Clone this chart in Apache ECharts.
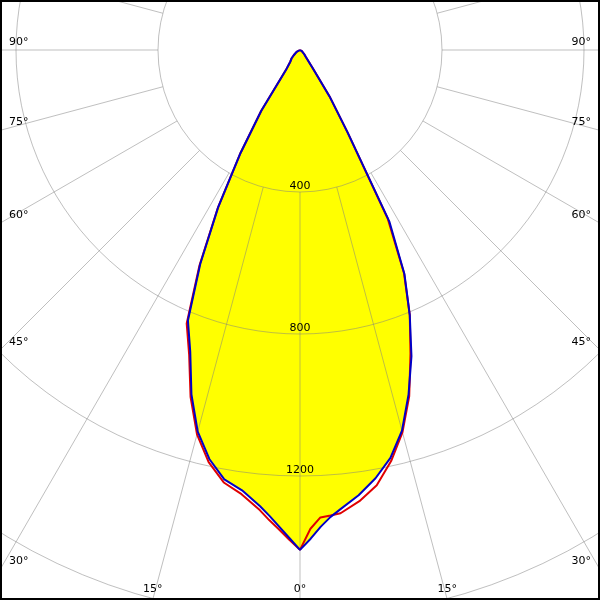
<!DOCTYPE html>
<html>
<head>
<meta charset="utf-8">
<script src="https://cdn.jsdelivr.net/npm/echarts@6/dist/echarts.min.js"></script>
<style>
  html, body { margin: 0; padding: 0; background: #fff; }
  #chart { width: 600px; height: 600px; }
</style>
</head>
<body>
<div id="chart"></div>
<script>
// gamma angles (deg from nadir) and luminous intensity (cd)
var angles = [0, 1.25, 2.5, 3.75, 5, 7.5, 10, 12.5, 15, 17.5, 20, 22.5, 25, 27.5, 30, 32.5, 35, 40, 45, 50, 60, 70, 80, 90];
var blueRight = [1408, 1377, 1344, 1318, 1299, 1265, 1225, 1177, 1110, 1017, 918, 808, 696, 546, 268, 155, 62, 25, 17, 11, 6, 3, 0, 0];
var blueLeft  = [1408, 1375, 1344, 1315, 1290, 1251, 1228, 1180, 1113, 1017, 904, 825, 665, 499, 335, 203, 70, 42, 34, 23, 11, 3, 0, 0];
var redRight  = [1408, 1349, 1318, 1314, 1310, 1282, 1245, 1186, 1115, 1023, 910, 808, 693, 535, 268, 155, 62, 25, 17, 11, 6, 3, 0, 0];
var redLeft   = [1408, 1380, 1352, 1327, 1301, 1262, 1237, 1189, 1121, 1025, 913, 834, 670, 501, 335, 203, 70, 42, 34, 23, 11, 3, 0, 0];

var ringValues = [400, 800, 1200, 1600];
var labelAngles = [0, 15, 30, 45, 60, 75, 90];

var cx = 300, cy = 50;
var rMax = 1800, rOuter = 639;
var rInner = ringValues[0] / rMax * rOuter;

// left half uses 360 - angle, run from left 90 down to 0 then up the right side
function curve(left, right) {
  var pts = [];
  for (var i = angles.length - 1; i > 0; i--) pts.push([left[i], 360 - angles[i]]);
  for (var j = 0; j < angles.length; j++) pts.push([right[j], angles[j]]);
  return pts;
}

// angle labels sit where each radial line leaves the frame
var texts = [];
labelAngles.forEach(function (a) {
  var sides = a === 0 ? [1] : [-1, 1];
  sides.forEach(function (sd) {
    var rad = a * Math.PI / 180;
    var dx = sd * Math.sin(rad), dy = Math.cos(rad);
    var tSide = dx !== 0 ? 300 / Math.abs(dx) : Infinity;
    var tBot = dy > 0 ? (600 - cy) / dy : Infinity;
    var x, y, align;
    if (tSide < tBot) {
      x = sd < 0 ? 9 : 591;
      y = cy + tSide * dy - 8;
      align = sd < 0 ? 'left' : 'right';
    } else {
      x = cx + tBot * dx;
      y = 589;
      align = 'center';
    }
    texts.push({
      type: 'text', x: x, y: y, z: 20,
      style: { text: a + '°', font: '11px DejaVu Sans', fill: '#000', align: align, verticalAlign: 'middle' }
    });
  });
});
texts.push({
  type: 'rect', z: 30, silent: true,
  shape: { x: 1, y: 1, width: 598, height: 598 },
  style: { fill: 'none', stroke: '#000', lineWidth: 2 }
});

var gridColor = 'rgba(128,128,128,0.5)';

var myChart = echarts.init(document.getElementById('chart'));
myChart.setOption({
  animation: false,
  backgroundColor: '#fff',
  polar: [
    { center: [cx, cy], radius: [rInner, rOuter] },
    { center: [cx, cy], radius: [0, rOuter] }
  ],
  angleAxis: [
    {
      polarIndex: 0, type: 'value', min: 0, max: 360, interval: 15,
      startAngle: 270, clockwise: false, z: 3,
      axisLine: { show: false }, axisTick: { show: false }, axisLabel: { show: false },
      splitLine: { show: true, lineStyle: { color: gridColor, width: 1 } }
    },
    {
      polarIndex: 1, type: 'value', min: 0, max: 360,
      startAngle: 270, clockwise: false,
      axisLine: { show: false }, axisTick: { show: false }, axisLabel: { show: false },
      splitLine: { show: false }
    }
  ],
  radiusAxis: [
    {
      polarIndex: 0, type: 'value', min: ringValues[0], max: rMax, interval: 400, z: 3,
      axisLine: { show: false }, axisTick: { show: false },
      axisLabel: {
        show: true, margin: 0, align: 'center', verticalAlign: 'bottom',
        color: '#000', fontSize: 11, fontFamily: 'DejaVu Sans',
        showMinLabel: true, showMaxLabel: false,
        formatter: function (v) { return String(v); }
      },
      splitLine: { show: true, lineStyle: { color: gridColor, width: 1 } }
    },
    {
      polarIndex: 1, type: 'value', min: 0, max: rMax,
      axisLine: { show: false }, axisTick: { show: false }, axisLabel: { show: false },
      splitLine: { show: false }
    }
  ],
  graphic: texts,
  series: [
    {
      name: 'fill', type: 'line', coordinateSystem: 'polar', polarIndex: 1,
      data: curve(blueLeft, blueRight), symbol: 'none', silent: true, z: 2, clip: false,
      lineStyle: { width: 0 },
      areaStyle: { color: '#ffff00', opacity: 1 }
    },
    {
      name: 'C0-C180', type: 'line', coordinateSystem: 'polar', polarIndex: 1,
      data: curve(redLeft, redRight), symbol: 'none', z: 4, clip: false,
      lineStyle: { color: '#e00000', width: 2 }
    },
    {
      name: 'C90-C270', type: 'line', coordinateSystem: 'polar', polarIndex: 1,
      data: curve(blueLeft, blueRight), symbol: 'none', z: 5, clip: false,
      lineStyle: { color: '#0000c8', width: 2 }
    }
  ]
});
</script>
</body>
</html>
